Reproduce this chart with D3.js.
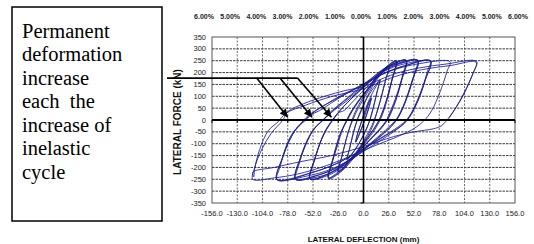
<!DOCTYPE html>
<html>
<head>
<meta charset="utf-8">
<script src="https://cdn.jsdelivr.net/npm/d3@7"></script>
<style>
html,body{margin:0;padding:0;background:#fff;}
svg{display:block;}
</style>
</head>
<body>
<svg id="chart" width="534" height="244"></svg>
<script>
// ---- data (deflection mm, lateral force kN) ----
const xTicks = [-156,-130,-104,-78,-52,-26,0,26,52,78,104,130,156];
const yTicks = [-350,-300,-250,-200,-150,-100,-50,0,50,100,150,200,250,300,350];
const driftValues = [-6,-5,-4,-3,-2,-1,0,1,2,3,4,5,6];
const noteLines = ["Permanent","deformation","increase","each  the","increase of","inelastic","cycle"];
const arrowTips = [[-78,12],[-53,12],[-33,12]];
const arrowStarts = [[-110,177],[-86,177],[-68,177]];

const cycle1 = [[0,0],[3,40],[6,75],[8,92],[6.5,66],[3.5,28],[1,-5],[-2,-35],[-5,-68],[-8,-92],[-6.5,-64],[-3.5,-26],[-1,6],[2,36],[5,70],[8,94],[6,58],[3,18],[0,-15],[-4,-56],[-8,-94],[-6,-55],[-3,-18]];
const cycle2 = [[0,22],[4,68],[9,112],[13,142],[17,168],[14.5,128],[10.5,62],[7,8],[3,-38],[-2,-80],[-8,-120],[-13,-148],[-17,-166],[-14.5,-124],[-10.5,-58],[-7,-6],[-3,38],[2,80],[8,122],[13,150],[17,170],[14,118],[10,48],[6,-8],[1,-55],[-6,-108],[-12,-145],[-17,-170],[-14,-115],[-10,-45],[-6,4]];
const cycle3 = [[-2,40],[3,90],[9,140],[17,188],[26,222],[23,172],[18,92],[13,22],[10,-20],[4,-70],[-5,-125],[-15,-178],[-26,-216],[-23,-165],[-18,-85],[-13,-15],[-9,30],[-3,78],[5,130],[14,182],[26,226],[22,158],[16,62],[11,0],[6,-45],[-3,-108],[-14,-172],[-26,-220],[-22,-150],[-16,-55],[-11,0]];
const cycle4 = [[-6,45],[0,88],[8,142],[17,196],[26,232],[34,248],[31,196],[26,118],[20,40],[15,-10],[8,-55],[-2,-108],[-13,-168],[-24,-218],[-36,-244],[-33,-190],[-27,-110],[-21,-35],[-16,5],[-10,48],[-2,95],[8,152],[19,208],[34,250],[30,180],[24,80],[18,8],[12,-38],[2,-95],[-10,-160],[-22,-214],[-36,-248],[-32,-170],[-25,-70],[-18,-5],[-12,40],[-3,92],[9,150],[20,205],[34,246],[29,165],[22,60],[16,0],[10,-40],[0,-100],[-12,-165],[-24,-212],[-36,-244],[-31,-160],[-24,-60],[-17,-2]];
const cycle5 = [[-12,40],[-4,88],[6,140],[16,190],[28,232],[44,251],[41,200],[35,115],[27,30],[22,-12],[14,-50],[3,-98],[-10,-155],[-24,-205],[-38,-236],[-55,-249],[-52,-190],[-45,-100],[-36,-25],[-30,8],[-24,42],[-12,92],[2,148],[16,202],[30,236],[44,253],[40,178],[33,78],[26,10],[19,-32],[6,-88],[-10,-150],[-28,-210],[-55,-250],[-50,-165],[-42,-70],[-33,-8],[-27,25],[-18,68],[-5,118],[10,175],[26,225],[44,250],[39,165],[31,62],[24,0],[16,-42],[2,-102],[-16,-172],[-34,-222],[-55,-248],[-49,-150],[-40,-50],[-32,0],[-26,30]];
const cycle6 = [[-20,40],[-10,82],[2,132],[14,182],[28,225],[42,244],[56,252],[53,205],[47,120],[39,38],[33,-5],[25,-42],[12,-88],[-2,-135],[-18,-185],[-35,-225],[-52,-244],[-70,-251],[-67,-195],[-60,-110],[-50,-32],[-42,-3],[-35,30],[-22,75],[-6,130],[10,182],[28,228],[56,252],[51,175],[43,75],[36,12],[29,-25],[14,-78],[-4,-138],[-24,-195],[-46,-232],[-70,-250],[-65,-160],[-55,-62],[-45,-12],[-38,15],[-28,52],[-14,98],[2,150],[20,205],[38,238],[56,250],[50,165],[41,60],[34,5],[26,-30],[10,-88],[-8,-148],[-30,-205],[-52,-238],[-70,-248],[-64,-150],[-53,-50],[-43,-5],[-36,20]];
const cycle7 = [[-30,42],[-18,78],[-4,125],[10,172],[26,215],[46,240],[69,249],[66,208],[60,125],[51,40],[44,-6],[35,-38],[20,-80],[4,-122],[-14,-168],[-35,-210],[-58,-236],[-89,-252],[-86,-198],[-79,-112],[-68,-30],[-60,-2],[-52,30],[-38,68],[-20,110],[0,150],[20,195],[42,228],[69,250],[64,172],[55,70],[47,10],[39,-24],[22,-68],[2,-118],[-22,-172],[-50,-218],[-89,-252],[-84,-165],[-75,-68],[-64,-12],[-57,18],[-42,58],[-22,102],[0,148],[22,198],[45,232],[69,248],[63,165],[53,60],[45,4],[36,-28],[18,-75],[-4,-130],[-28,-185],[-56,-225],[-89,-250],[-83,-155],[-73,-60],[-62,-8],[-55,20]];
const cycle8 = [[-45,40],[-30,80],[-12,125],[8,170],[30,210],[58,238],[89,246],[86,205],[79,120],[70,38],[62,-4],[52,-36],[35,-70],[12,-108],[-12,-150],[-38,-192],[-68,-228],[-92,-244],[-114,-250],[-112,-200],[-105,-126],[-95,-56],[-83,0],[-78,35],[-62,68],[-40,100],[-18,125],[0,140],[18,172],[34,197],[58,220],[85,236],[116.5,247],[113,198],[108,150],[102,98],[94,45],[86,0],[80,-25],[72,-37],[52,-50],[31,-70],[0,-112],[-31,-148],[-65,-176],[-92,-200],[-114,-220],[-113,-240],[-112,-205],[-107,-125],[-98,-45],[-88,-8],[-80,28],[-60,62],[-32,100],[0,132],[30,180],[60,212],[90,230],[116,244],[112,190],[104,118],[94,45],[88,8]];

const cycles = [cycle1,cycle2,cycle3,cycle4,cycle5,cycle6,cycle7,cycle8];

// ---- layout ----
const svg = d3.select("#chart");
const x = d3.scaleLinear().domain([-156,156]).range([212,515]);
const y = d3.scaleLinear().domain([-350,350]).range([203,37]);
const drift = d3.scaleLinear().domain([-6,6]).range([204,518]);

const sans = "'Liberation Sans',Arial,sans-serif";

// note box
svg.append("rect").attr("x",12).attr("y",7).attr("width",150).attr("height",214)
  .attr("fill","#fff").attr("stroke","#000").attr("stroke-width",1.5);
svg.append("g").selectAll("text").data(noteLines).join("text")
  .attr("x",22).attr("y",(d,i)=>37.5+i*23.5)
  .attr("font-family","'Liberation Serif','Times New Roman',serif")
  .attr("font-size",20.5).attr("fill","#000")
  .style("white-space","pre").attr("xml:space","preserve")
  .text(d=>d);

// plot background & grid
svg.append("rect").attr("x",x(-156)).attr("y",y(350)).attr("width",x(156)-x(-156)).attr("height",y(-350)-y(350))
  .attr("fill","#fff");
svg.append("g").selectAll("line").data(yTicks.filter(v=>v!==0 && Math.abs(v)!==350)).join("line")
  .attr("x1",x(-156)).attr("x2",x(156)).attr("y1",d=>y(d)).attr("y2",d=>y(d))
  .attr("stroke","#222").attr("stroke-width",0.9).attr("stroke-dasharray","2.5,1");
svg.append("g").selectAll("line").data(xTicks.filter(v=>v!==0 && Math.abs(v)!==156)).join("line")
  .attr("y1",y(350)).attr("y2",y(-350)).attr("x1",d=>x(d)).attr("x2",d=>x(d))
  .attr("stroke","#444").attr("stroke-width",0.8).attr("stroke-dasharray","2,1.5");
svg.append("rect").attr("x",x(-156)).attr("y",y(350)).attr("width",x(156)-x(-156)).attr("height",y(-350)-y(350))
  .attr("fill","none").attr("stroke","#555").attr("stroke-width",1);

// hysteresis curve
const allPts = cycles.flat();
const line = d3.line().x(d=>x(d[0])).y(d=>y(d[1])).curve(d3.curveCatmullRom.alpha(0.5));
svg.append("path").attr("d",line(allPts)).attr("fill","none")
  .attr("stroke","#1b1b8e").attr("stroke-width",0.85).attr("stroke-linejoin","round");

// zero axes
svg.append("line").attr("x1",x(-156)).attr("x2",x(156)).attr("y1",y(0)).attr("y2",y(0))
  .attr("stroke","#000").attr("stroke-width",2);
svg.append("line").attr("x1",x(0)).attr("x2",x(0)).attr("y1",y(350)).attr("y2",y(-350))
  .attr("stroke","#000").attr("stroke-width",1.6);
svg.append("g").selectAll("line").data(yTicks).join("line")
  .attr("x1",x(0)-3).attr("x2",x(0)).attr("y1",d=>y(d)).attr("y2",d=>y(d))
  .attr("stroke","#000").attr("stroke-width",1);
svg.append("g").selectAll("line").data(xTicks).join("line")
  .attr("x1",d=>x(d)).attr("x2",d=>x(d)).attr("y1",y(0)).attr("y2",y(0)+3)
  .attr("stroke","#000").attr("stroke-width",1);

// tick labels
svg.append("g").selectAll("text").data(yTicks).join("text")
  .attr("x",206).attr("y",d=>y(d)+2.5).attr("text-anchor","end")
  .attr("font-family",sans).attr("font-size",7.5).attr("fill","#222")
  .text(d=>d);
svg.append("g").selectAll("text").data(xTicks).join("text")
  .attr("x",d=>x(d)).attr("y",216).attr("text-anchor","middle")
  .attr("font-family",sans).attr("font-size",7.5).attr("fill","#222")
  .text(d=>d.toFixed(1));
svg.append("g").selectAll("text").data(driftValues).join("text")
  .attr("x",d=>drift(d)).attr("y",18.5).attr("text-anchor","middle")
  .attr("font-family",sans).attr("font-size",7).attr("font-weight","bold").attr("fill","#222")
  .text(d=>Math.abs(d).toFixed(2)+"%");

// axis titles
svg.append("text").attr("transform",`translate(180.5,${y(0)+2}) rotate(-90)`).attr("text-anchor","middle")
  .attr("font-family",sans).attr("font-size",10).attr("font-weight","bold").attr("fill","#111")
  .text("LATERAL FORCE (kN)");
svg.append("text").attr("x",x(0)).attr("y",241.5).attr("text-anchor","middle")
  .attr("font-family",sans).attr("font-size",8).attr("font-weight","bold").attr("fill","#111")
  .text("LATERAL DEFLECTION (mm)");

// annotation arrows
const defs = svg.append("defs");
defs.append("marker").attr("id","ah").attr("viewBox","0 0 10 10").attr("refX",10).attr("refY",5)
  .attr("markerWidth",10).attr("markerHeight",8).attr("markerUnits","userSpaceOnUse").attr("orient","auto")
  .append("path").attr("d","M0,0L10,5L0,10z").attr("fill","#000");
svg.append("line").attr("x1",167).attr("x2",x(arrowStarts[2][0])).attr("y1",y(arrowStarts[0][1])).attr("y2",y(arrowStarts[0][1]))
  .attr("stroke","#000").attr("stroke-width",1.8);
svg.append("g").selectAll("line").data(arrowTips).join("line")
  .attr("x1",(d,i)=>x(arrowStarts[i][0])).attr("y1",(d,i)=>y(arrowStarts[i][1]))
  .attr("x2",d=>x(d[0])).attr("y2",d=>y(d[1]))
  .attr("stroke","#000").attr("stroke-width",1.6).attr("marker-end","url(#ah)");
</script>
</body>
</html>
